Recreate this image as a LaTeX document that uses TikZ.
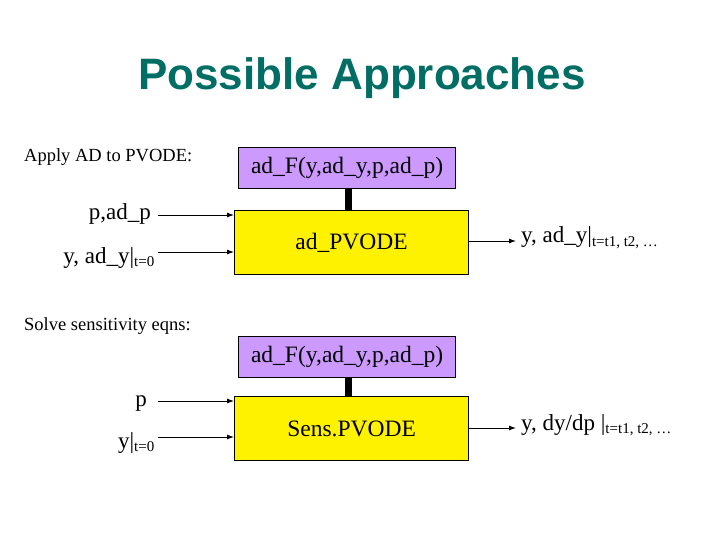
\documentclass[tikz,border=0pt]{standalone}
\usepackage{fontspec}
\setmainfont{Liberation Serif}
\newfontfamily\titlefont{Liberation Sans}
\usetikzlibrary{arrows.meta}
\definecolor{teal2}{RGB}{0,110,100}
\definecolor{lav}{RGB}{204,153,255}
\newcommand{\subsz}{\fontsize{15}{17}\selectfont}
\tikzset{
  purp/.style={draw=black, line width=1.2pt, fill=lav, font=\fontsize{23.5}{26}\selectfont},
  yel/.style={draw=black, line width=1.2pt, fill=yellow, font=\fontsize{23.5}{26}\selectfont},
  inarr/.style={-{Latex[length=7pt,width=5pt]}, line width=0.9pt},
  thick2/.style={line width=7pt},
  lab/.style={font=\fontsize{23}{26}\selectfont, inner sep=1pt},
  small/.style={font=\fontsize{18.5}{21}\selectfont, inner sep=0pt, anchor=west}
}
\begin{document}
\begin{tikzpicture}[x=1pt,y=-1pt]
\useasboundingbox (0,0) rectangle (720,540);
\node[font=\titlefont\bfseries\fontsize{44}{50}\selectfont, text=teal2] (title) at (362,78) {Possible Approaches};
\node[small] (apply) at (24,157) {Apply AD to PVODE:};
\node[small] (solve) at (24,326) {Solve sensitivity eqns:};
% block 1
\node[purp, minimum width=217pt, minimum height=41pt, anchor=north west] (f1) at (238,147) {ad\_F(y,ad\_y,p,ad\_p)};
\node[yel, minimum width=234pt, minimum height=64pt, anchor=north west] (b1) at (234,210) {ad\_PVODE};
\draw[thick2] (f1.south -| 348,0) -- (b1.north -| 348,0);
\coordinate (i1a) at (158,215);
\coordinate (i1b) at (158,252);
\coordinate (o1) at (516,241);
\draw[inarr] (i1a) -- (b1.west |- i1a);
\draw[inarr] (i1b) -- (b1.west |- i1b);
\draw[inarr] (b1.east |- o1) -- (o1);
\node[lab, anchor=base east] (l1a) at (152,220) {p,ad\_p};
\node[lab, anchor=base east] (l1b) at (156,263) {y, ad\_y|\textsubscript{\subsz t=0}};
\node[lab, anchor=base west] (l1o) at (520,243) {y, ad\_y|\textsubscript{\subsz t=t1, t2, \ldots}};
% block 2
\node[purp, minimum width=217pt, minimum height=41pt, anchor=north west] (f2) at (238,336) {ad\_F(y,ad\_y,p,ad\_p)};
\node[yel, minimum width=234pt, minimum height=64pt, anchor=north west] (b2) at (234,396) {Sens.PVODE};
\draw[thick2] (f2.south -| 348,0) -- (b2.north -| 348,0);
\coordinate (i2a) at (158,401);
\coordinate (i2b) at (158,437);
\coordinate (o2) at (516,428);
\draw[inarr] (i2a) -- (b2.west |- i2a);
\draw[inarr] (i2b) -- (b2.west |- i2b);
\draw[inarr] (b2.east |- o2) -- (o2);
\node[lab, anchor=base east] (l2a) at (148,406) {p};
\node[lab, anchor=base east] (l2b) at (156,448) {y|\textsubscript{\subsz t=0}};
\node[lab, anchor=base west] (l2o) at (520,430) {y, dy/dp |\textsubscript{\subsz t=t1, t2, \ldots}};
\end{tikzpicture}
\end{document}
